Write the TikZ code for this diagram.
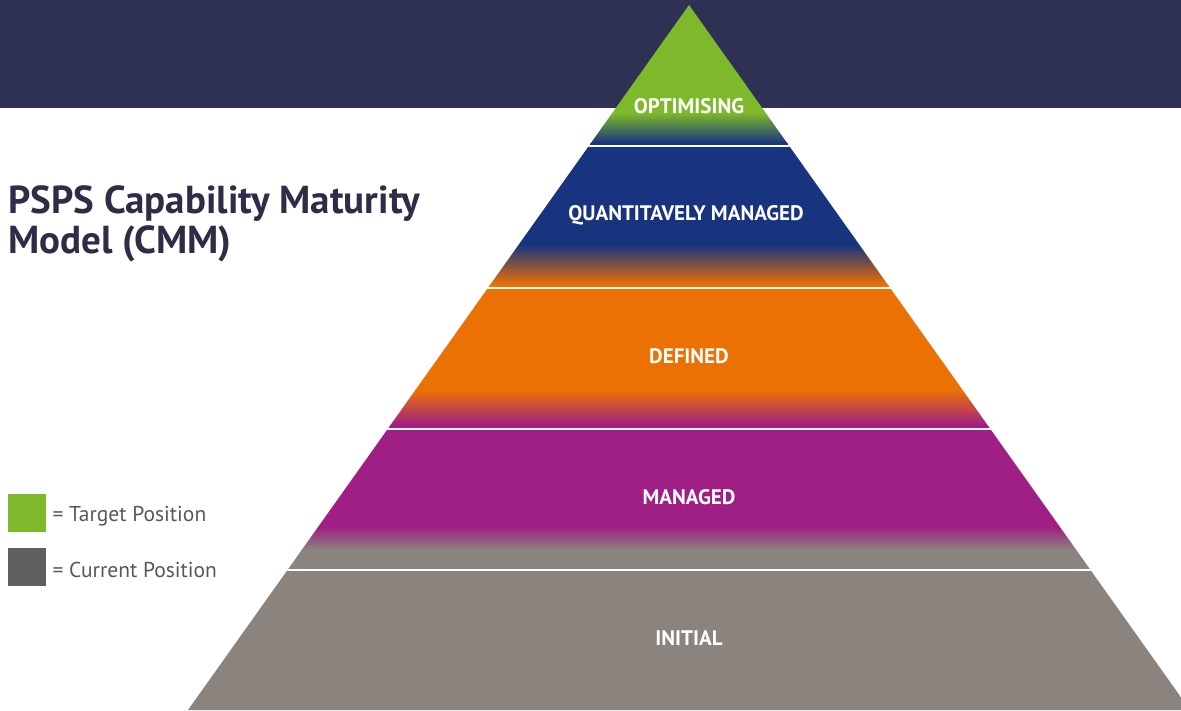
\documentclass[tikz,border=0pt]{standalone}
\usepackage{fontspec}
\setmainfont{PT Sans}
\usetikzlibrary{positioning}

\definecolor{navyband}{HTML}{2E3154}
\definecolor{optgreen}{HTML}{7DB92A}
\definecolor{quantblue}{HTML}{19347F}
\definecolor{deforange}{HTML}{EC7105}
\definecolor{mgdpurple}{HTML}{A01F84}
\definecolor{initgrey}{HTML}{8B837D}
\definecolor{keygrey}{HTML}{5F5F5F}
\definecolor{titleink}{HTML}{2E2D48}
\definecolor{keyink}{HTML}{58585A}

\begin{document}
\begin{tikzpicture}[x=1pt, y=-1pt,
    level/.style={text=white, font=\bfseries\fontsize{21}{21}\selectfont},
    titletext/.style={anchor=base west, inner sep=0pt, text=titleink, font=\bfseries\fontsize{39}{39}\selectfont},
    keybox/.style={minimum size=38pt, inner sep=0pt, anchor=north west},
    keytext/.style={inner sep=0pt, yshift=-3pt, text=keyink, font=\fontsize{21.5}{21.5}\selectfont}]
    \useasboundingbox (0,0) rectangle (1181,710);
    \fill[navyband] (0,0) rectangle (1181,108);
    % pyramid
    \begin{scope}
        \clip (689,5) -- (1190,710) -- (188,710) -- cycle;
        \fill[optgreen] (0,0) rectangle (1181,113);
        \shade[top color=optgreen, bottom color=quantblue] (0,113) rectangle (1181,143);
        \fill[quantblue] (0,143) rectangle (1181,245);
        \shade[top color=quantblue, bottom color=deforange] (0,245) rectangle (1181,285);
        \fill[deforange] (0,285) rectangle (1181,390);
        \shade[top color=deforange, bottom color=mgdpurple] (0,390) rectangle (1181,425);
        \fill[mgdpurple] (0,425) rectangle (1181,527);
        \shade[top color=mgdpurple, bottom color=initgrey] (0,527) rectangle (1181,550);
        \fill[initgrey] (0,550) rectangle (1181,711);
        \foreach \y in {146,288,429,570}
            \draw[white, line width=2pt] (0,\y) -- (1181,\y);
    \end{scope}
    \node[level] (optimising) at (689,106) {OPTIMISING};
    \node[level] (quantitative) at (686,215) {QUANTITAVELY MANAGED};
    \node[level] (defined) at (689,356) {DEFINED};
    \node[level] (managed) at (689,497) {MANAGED};
    \node[level] (initial) at (689,638) {INITIAL};
    % title
    \node[titletext] (title) at (8,213) {PSPS Capability Maturity};
    \node[titletext] (subtitle) at (8,253) {Model (CMM)};
    % legend
    \node[keybox, fill=optgreen] (target) at (8,494) {};
    \node[keytext, right=6pt of target] (targetlabel) {= Target Position};
    \node[keybox, fill=keygrey] (current) at (8,548) {};
    \node[keytext, right=6pt of current] (currentlabel) {= Current Position};
\end{tikzpicture}
\end{document}
